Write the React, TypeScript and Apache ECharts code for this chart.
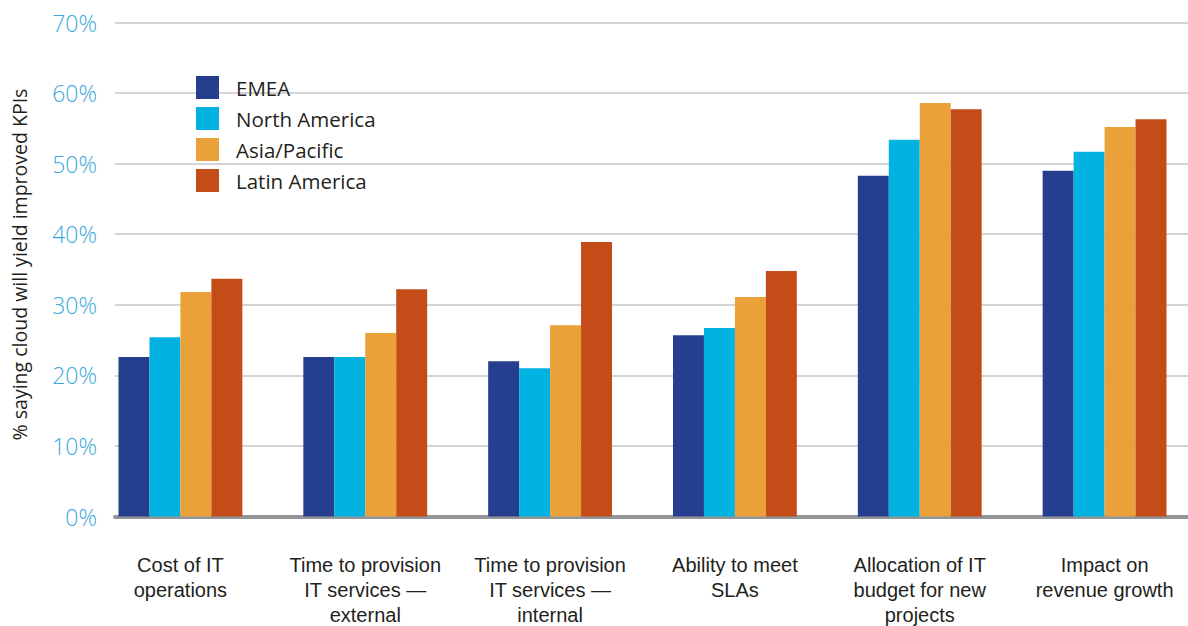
import React, { useEffect, useRef } from "react";
import * as echarts from "echarts";

const categories = [
  "Cost of IT\noperations",
  "Time to provision\nIT services —\nexternal",
  "Time to provision\nIT services —\ninternal",
  "Ability to meet\nSLAs",
  "Allocation of IT\nbudget for new\nprojects",
  "Impact on\nrevenue growth",
];

const regions = ["EMEA", "North America", "Asia/Pacific", "Latin America"];

const emea = [22.6, 22.6, 22.0, 25.7, 48.3, 49.0];
const northAmerica = [25.4, 22.6, 21.0, 26.7, 53.4, 51.7];
const asiaPacific = [31.8, 26.0, 27.1, 31.1, 58.6, 55.2];
const latinAmerica = [33.7, 32.2, 38.9, 34.8, 57.7, 56.3];

const yTicks = [0, 10, 20, 30, 40, 50, 60, 70];

const colors = ["#253f8e", "#02b3e2", "#eba13a", "#c44c18"];

export default function App() {
  const ref = useRef<HTMLDivElement>(null);

  useEffect(() => {
    if (!ref.current) return;
    const chart = echarts.init(ref.current, null, { renderer: "svg" });
    const values = [emea, northAmerica, asiaPacific, latinAmerica];
    const yMin = yTicks[0];
    const yMax = yTicks[yTicks.length - 1];
    const step = yTicks[1] - yTicks[0];

    chart.setOption({
      animation: false,
      backgroundColor: "#ffffff",
      color: colors,
      legend: {
        orient: "vertical",
        left: 196,
        top: 76,
        padding: 0,
        itemWidth: 23,
        itemHeight: 23,
        itemGap: 8,
        icon: "rect",
        data: regions,
        textStyle: {
          fontFamily: "'Open Sans', sans-serif",
          fontSize: 20.5,
          color: "#231f20",
          padding: [0, 0, 0, 12],
        },
      },
      grid: [
        // frame: gridlines, percentage axis, baseline
        { left: 115, right: 0, top: 22.5, height: 494, outerBoundsMode: "none" },
        // bars
        { left: 88, width: 1109, top: 22.5, height: 494, outerBoundsMode: "none" },
      ],
      xAxis: [
        {
          type: "category",
          gridIndex: 0,
          data: categories,
          axisLine: {
            show: true,
            onZero: false,
            lineStyle: { color: "#939598", width: 4, cap: "round" },
          },
          axisTick: { show: false },
          axisLabel: { show: false },
          splitLine: { show: false },
        },
        {
          type: "category",
          gridIndex: 1,
          data: categories,
          axisLine: { show: false },
          axisTick: { show: false },
          axisLabel: {
            margin: 36,
            fontFamily: "'Liberation Sans', Arial, sans-serif",
            fontSize: 20,
            lineHeight: 25,
            color: "#231f20",
            interval: 0,
          },
        },
      ],
      yAxis: [
        {
          type: "value",
          gridIndex: 0,
          min: yMin,
          max: yMax,
          interval: step,
          name: "% saying cloud will yield improved KPIs",
          nameLocation: "middle",
          nameGap: 86,
          nameTextStyle: {
            fontFamily: "'Open Sans', sans-serif",
            fontSize: 19.5,
            color: "#231f20",
            padding: [0, 0, 0, 10],
          },
          axisLine: { show: false },
          axisTick: { show: false },
          axisLabel: {
            margin: 18,
            formatter: "{value}%",
            fontFamily: "'Open Sans', sans-serif",
            fontWeight: 300,
            fontSize: 23,
            color: "#3ca9dd",
          },
          splitLine: { lineStyle: { color: "#c6c6c6", width: 1.5 } },
        },
        {
          type: "value",
          gridIndex: 1,
          min: yMin,
          max: yMax,
          interval: step,
          show: false,
          splitLine: { show: false },
        },
      ],
      series: regions.map((name, i) => ({
        name,
        type: "bar",
        xAxisIndex: 1,
        yAxisIndex: 1,
        data: values[i],
        barGap: "0%",
        barCategoryGap: "33%",
        itemStyle: { color: colors[i] },
        z: 3,
      })),
    });

    return () => chart.dispose();
  }, []);

  return (
    <div
      ref={ref}
      style={{ position: "fixed", left: 0, top: 0, width: 1188, height: 626 }}
    />
  );
}
